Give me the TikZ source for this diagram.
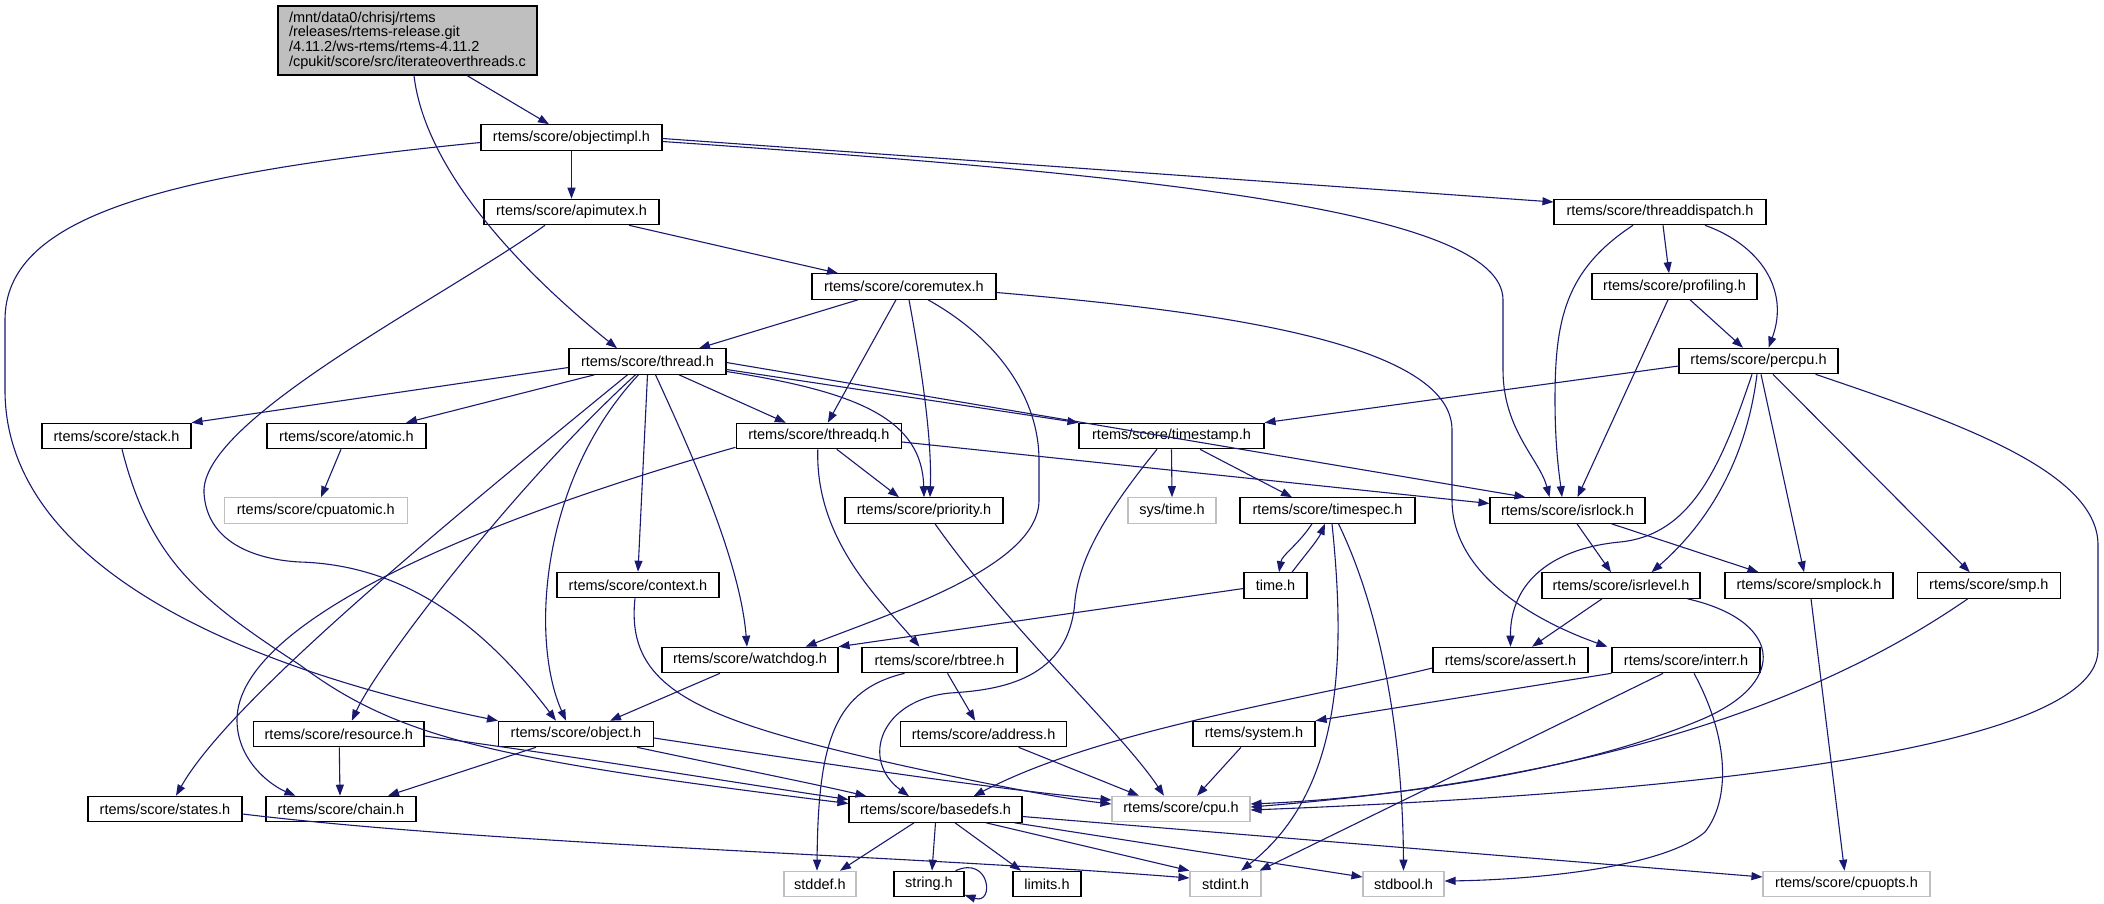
\documentclass[tikz,border=0pt]{standalone}
\usepackage{fontspec}
\setmainfont{Liberation Sans}
\usetikzlibrary{arrows.meta,calc}
\definecolor{edgeblue}{HTML}{191970}
\definecolor{lgray}{HTML}{BFBFBF}
\tikzset{
  box/.style={draw=black, fill=white, line width=1.1pt, rectangle, minimum height=25.5pt, inner sep=0pt, font=\fontsize{14.5}{15}\selectfont},
  gbox/.style={box, draw=lgray},
  rootbox/.style={box, fill=lgray, inner xsep=11pt, minimum height=69pt, align=left, font=\fontsize{14.5}{14.7}\selectfont},
  edge/.style={draw=edgeblue, line width=1.1pt, -{Triangle[length=11pt,width=8pt]}},
}
\newcommand\mkn[6][box]{\node[#1, minimum width=#5pt] (#2) at (#3,#4) {#6};}
\begin{document}
\begin{tikzpicture}[x=1pt,y=-1pt]
\fill[white] (0,0) rectangle (2104,903);
\useasboundingbox (0,0) rectangle (2104,903);

\node[rootbox] (root) at (407.5,40.5) {/mnt/data0/chrisj/rtems\\/releases/rtems-release.git\\/4.11.2/ws-rtems/rtems-4.11.2\\/cpukit/score/src/iterateoverthreads.c};
\mkn{objectimpl}{571.5}{137.5}{181}{rtems/score/objectimpl.h}
\mkn{apimutex}{571.5}{212}{175}{rtems/score/apimutex.h}
\mkn{coremutex}{904}{286.5}{184}{rtems/score/coremutex.h}
\mkn{threaddispatch}{1660}{212}{212}{rtems/score/threaddispatch.h}
\mkn{profiling}{1674.5}{286.5}{165}{rtems/score/profiling.h}
\mkn{percpu}{1758.5}{361}{159}{rtems/score/percpu.h}
\mkn{thread}{647.5}{361.5}{157}{rtems/score/thread.h}
\mkn{stack}{116.5}{436}{149}{rtems/score/stack.h}
\mkn{atomic}{346.5}{436}{159}{rtems/score/atomic.h}
\mkn[gbox]{cpuatomic}{315.8}{510.5}{182.5}{rtems/score/cpuatomic.h}
\mkn{context}{638}{585}{162}{rtems/score/context.h}
\mkn{threadq}{818.8}{436}{165.5}{rtems/score/threadq.h}
\mkn{timestamp}{1171.5}{436}{185}{rtems/score/timestamp.h}
\mkn{priority}{924}{510.5}{158}{rtems/score/priority.h}
\mkn[gbox]{systime}{1172}{510.5}{88}{sys/time.h}
\mkn{timespec}{1327.5}{510.5}{175}{rtems/score/timespec.h}
\mkn{timeh}{1275.5}{585.5}{63}{time.h}
\mkn{isrlock}{1567.5}{510.5}{155}{rtems/score/isrlock.h}
\mkn{watchdog}{750}{660}{176}{rtems/score/watchdog.h}
\mkn{rbtree}{939.5}{660}{155}{rtems/score/rbtree.h}
\mkn{isrlevel}{1621}{585.5}{158}{rtems/score/isrlevel.h}
\mkn{smplock}{1809}{585.5}{168}{rtems/score/smplock.h}
\mkn{smp}{1988.8}{585.5}{143.5}{rtems/score/smp.h}
\mkn{assert}{1510.5}{660}{155}{rtems/score/assert.h}
\mkn{interr}{1686}{660}{148}{rtems/score/interr.h}
\mkn{resource}{338.8}{734}{170.4}{rtems/score/resource.h}
\mkn{object}{576}{734}{155}{rtems/score/object.h}
\mkn{address}{983.6}{734}{166.3}{rtems/score/address.h}
\mkn{system}{1254}{734}{122}{rtems/system.h}
\mkn{states}{165}{809}{154}{rtems/score/states.h}
\mkn{chain}{341}{809}{150}{rtems/score/chain.h}
\mkn{basedefs}{935.5}{809.5}{173}{rtems/score/basedefs.h}
\mkn[gbox]{cpu}{1181}{809}{138}{rtems/score/cpu.h}
\mkn[gbox]{stddef}{820}{884}{72}{stddef.h}
\mkn{string}{929}{884}{70}{string.h}
\mkn{limits}{1047}{884}{68}{limits.h}
\mkn[gbox]{stdint}{1225.5}{884}{71}{stdint.h}
\mkn[gbox]{stdbool}{1403.5}{884}{81}{stdbool.h}
\mkn[gbox]{cpuopts}{1846.5}{884}{167}{rtems/score/cpuopts.h}

% root
\draw[edge] ($(root.south)+(59.5,0)$) -- ($(objectimpl.north)+(-22.5,0)$);
\draw[edge] ($(root.south)+(6.5,0)$) .. controls (425,170) and (520,270) .. ($(thread.north)+(-30.5,0)$);
% objectimpl
\draw[edge] (objectimpl.south) -- (apimutex.north);
\draw[edge] ($(objectimpl.west)+(0,5)$) .. controls (150,175) and (5,220) .. (5,320) -- (5,390) .. controls (5,570) and (250,670) .. (object.north west);
\draw[edge] ($(objectimpl.east)+(0,4)$) .. controls (1150,175) and (1503,210) .. (1503,300) -- (1503,370) .. controls (1503,430) and (1540,460) .. ($(isrlock.north)+(-18,0)$);
\draw[edge] ($(objectimpl.east)+(0,1)$) -- ($(threaddispatch.west)+(0,-10)$);
% apimutex
\draw[edge] ($(apimutex.south)+(57.5,0)$) -- ($(coremutex.north)+(-66,0)$);
\draw[edge] ($(apimutex.south)+(-26.5,0)$) .. controls (440,300) and (200,420) .. (204,493) .. controls (207,545) and (260,560) .. (300,562) .. controls (400,565) and (480,620) .. ($(object.north)+(-20,0)$);
% coremutex
\draw[edge] ($(coremutex.south)+(-46,0)$) -- ($(thread.north)+(51.5,0)$);
\draw[edge] ($(coremutex.south)+(-8,0)$) -- ($(threadq.north)+(9,0)$);
\draw[edge] ($(coremutex.south)+(5,0)$) .. controls (922,370) and (932,440) .. ($(priority.north)+(6,0)$);
\draw[edge] ($(coremutex.south)+(24,0)$) .. controls (1000,340) and (1039,400) .. (1039,460) -- (1039,500) .. controls (1039,565) and (900,610) .. ($(watchdog.north east)+(-33,0)$);
\draw[edge] ($(coremutex.east)+(0,6)$) .. controls (1200,310) and (1452,340) .. (1452,430) -- (1452,500) .. controls (1452,585) and (1560,630) .. ($(interr.north west)+(-4,0)$);
% thread
\draw[edge] ($(thread.west)+(0,6)$) -- (stack.north east);
\draw[edge] ($(thread.south west)+(26,0)$) -- ($(atomic.north)+(59.5,0)$);
\draw[edge] ($(thread.south)+(31.5,0)$) -- ($(threadq.north)+(-33,0)$);
\draw[edge] ($(thread.east)+(0,8)$) -- (timestamp.north west);
\draw[edge] ($(thread.east)+(0,1)$) -- ($(isrlock.north west)+(36,0)$);
\draw[edge] ($(thread.east)+(0,10)$) .. controls (860,392) and (922,420) .. (priority.north);
\draw[edge] ($(thread.south)+(8,0)$) .. controls (690,450) and (740,560) .. ($(watchdog.north)+(-3,0)$);
\draw[edge] (thread.south) -- (context.north);
\draw[edge] ($(thread.south)+(-9,0)$) .. controls (540,480) and (530,640) .. ($(object.north)+(-10,0)$);
\draw[edge] ($(thread.south)+(-12,0)$) .. controls (520,480) and (380,660) .. ($(resource.north)+(13,0)$);
\draw[edge] ($(thread.south)+(-20,0)$) .. controls (450,520) and (230,700) .. ($(states.north)+(11,0)$);
% atomic, stack
\draw[edge] ($(atomic.south)+(-5.5,0)$) -- ($(cpuatomic.north)+(5.2,0)$);
\draw[edge] ($(stack.south)+(5.5,0)$) .. controls (150,560) and (200,600) .. (300,665) .. controls (400,740) and (500,760) .. ($(basedefs.west)+(0,-6)$);
% resource, object, context, watchdog
\draw[edge] ($(resource.east)+(0,2)$) .. controls (600,760) and (750,785) .. ($(basedefs.west)+(0,-10)$);
\draw[edge] ($(resource.south)+(0.5,0)$) -- ($(chain.north)+(-1,0)$);
\draw[edge] ($(object.south)+(-40,0)$) -- ($(chain.north)+(47,0)$);
\draw[edge] ($(object.south east)+(-17,0)$) .. controls (720,765) and (820,785) .. ($(basedefs.north west)+(18,0)$);
\draw[edge] ($(object.east)+(0,4)$) .. controls (800,760) and (1000,790) .. ($(cpu.west)+(0,-9)$);
\draw[edge] ($(context.south)+(-3,0)$) .. controls (625,690) and (700,720) .. (900,765) .. controls (1000,787) and (1060,798) .. ($(cpu.west)+(0,-5)$);
\draw[edge] ($(watchdog.south)+(-30,0)$) -- ($(object.north)+(34,0)$);
% threadq
\draw[edge] ($(threadq.south west)+(0,-2)$) .. controls (486,518) and (237,620) .. (237,720) .. controls (237,760) and (270,785) .. ($(chain.north west)+(30,0)$);
\draw[edge] ($(threadq.south)+(18,0)$) -- ($(priority.north)+(-25,0)$);
\draw[edge] ($(threadq.south)+(-1,0)$) .. controls (815,540) and (880,600) .. ($(rbtree.north)+(-20,0)$);
\draw[edge] ($(threadq.east)+(0,6)$) -- ($(isrlock.west)+(0,-7)$);
% timestamp
\draw[edge] (timestamp.south) -- (systime.north);
\draw[edge] ($(timestamp.south)+(28.5,0)$) -- ($(timespec.north)+(-35.5,0)$);
\draw[edge] ($(timestamp.south)+(-14.5,0)$) .. controls (1100,520) and (1080,560) .. (1075,600) .. controls (1070,680) and (1000,690) .. (950,693) .. controls (880,700) and (860,760) .. ($(basedefs.north)+(-26.5,0)$);
% timespec, time.h
\draw[edge] ($(timespec.south)+(-15.5,0)$) .. controls (1298,545) and (1282,555) .. ($(timeh.north)+(3.5,0)$);
\draw[edge] ($(timeh.north)+(16.5,0)$) .. controls (1305,555) and (1318,540) .. ($(timespec.south)+(-2.5,0)$);
\draw[edge] ($(timespec.south)+(4.5,0)$) .. controls (1345,650) and (1345,790) .. ($(stdint.north)+(15.5,0)$);
\draw[edge] ($(timespec.south)+(11,0)$) .. controls (1385,620) and (1403,750) .. (stdbool.north);
\draw[edge] ($(timeh.west)+(0,3)$) -- (watchdog.north east);
% rbtree, priority, address, system
\draw[edge] ($(rbtree.south)+(8,0)$) -- ($(address.north)+(-8.5,0)$);
\draw[edge] ($(rbtree.south)+(-35,0)$) .. controls (835,690) and (818,740) .. ($(stddef.north)+(-3,0)$);
\draw[edge] ($(priority.south)+(11,0)$) .. controls (1010,630) and (1120,730) .. ($(cpu.north)+(-17,0)$);
\draw[edge] ($(address.south)+(35,0)$) -- ($(cpu.north)+(-42,0)$);
\draw[edge] ($(system.south)+(-13,0)$) -- ($(cpu.north)+(16,0)$);
% assert, interr
\draw[edge] ($(assert.west)+(0,8)$) .. controls (1300,700) and (1100,730) .. ($(basedefs.north east)+(-49,0)$);
\draw[edge] (interr.south west) -- (system.north east);
\draw[edge] ($(interr.south)+(-23,0)$) -- ($(stdint.north east)+(-2,0)$);
\draw[edge] ($(interr.south)+(8,0)$) .. controls (1730,740) and (1730,800) .. (1705,832) .. controls (1660,870) and (1520,880) .. ($(stdbool.east)+(0,-3)$);
% isrlock, isrlevel
\draw[edge] ($(isrlock.south)+(9.5,0)$) -- ($(isrlevel.north)+(-10,0)$);
\draw[edge] ($(isrlock.south east)+(-34,0)$) -- ($(smplock.north west)+(34,0)$);
\draw[edge] ($(isrlevel.south)+(-19,0)$) -- ($(assert.north)+(21.5,0)$);
\draw[edge] ($(isrlevel.south east)+(-13,0)$) .. controls (1780,620) and (1790,680) .. (1705,718) .. controls (1560,780) and (1350,800) .. ($(cpu.east)+(0,-5)$);
% percpu
\draw[edge] ($(percpu.west)+(0,5)$) -- (timestamp.north east);
\draw[edge] ($(percpu.south)+(-6.5,0)$) .. controls (1720,470) and (1690,535) .. (1620,542) .. controls (1555,548) and (1510,580) .. (assert.north);
\draw[edge] ($(percpu.south)+(-1.5,0)$) .. controls (1745,470) and (1700,530) .. ($(isrlevel.north east)+(-49,0)$);
\draw[edge] ($(percpu.south)+(2.5,0)$) -- ($(smplock.north)+(-5,0)$);
\draw[edge] ($(percpu.south)+(14.5,0)$) -- ($(smp.north)+(-19,0)$);
\draw[edge] ($(percpu.south east)+(-23,0)$) .. controls (1950,420) and (2098,470) .. (2098,545) -- (2098,650) .. controls (2098,770) and (1500,800) .. ($(cpu.east)+(0,1)$);
\draw[edge] ($(smp.south)+(-21,0)$) .. controls (1850,680) and (1650,775) .. ($(cpu.east)+(0,-2)$);
\draw[edge] ($(smplock.south)+(2,0)$) -- ($(cpuopts.north)+(-2,0)$);
% threaddispatch, profiling
\draw[edge] ($(threaddispatch.south)+(3,0)$) -- ($(profiling.north)+(-5.5,0)$);
\draw[edge] ($(threaddispatch.south)+(45,0)$) .. controls (1760,245) and (1790,290) .. ($(percpu.north)+(10,0)$);
\draw[edge] ($(threaddispatch.south)+(-27,0)$) .. controls (1565,270) and (1555,320) .. (1555,400) .. controls (1555,450) and (1560,480) .. ($(isrlock.north)+(-5.5,0)$);
\draw[edge] ($(profiling.south)+(15.5,0)$) -- ($(percpu.north)+(-15.5,0)$);
\draw[edge] ($(profiling.south)+(-6.5,0)$) -- ($(isrlock.north)+(10,0)$);
% states
\draw[edge] ($(states.east)+(0,5)$) .. controls (500,845) and (900,855) .. ($(stdint.west)+(0,-6)$);
% basedefs
\draw[edge] ($(basedefs.south)+(-21.5,0)$) -- ($(stddef.north)+(20,0)$);
\draw[edge] (basedefs.south) -- ($(string.north)+(3,0)$);
\draw[edge] ($(basedefs.south)+(19.5,0)$) -- ($(limits.north)+(-26,0)$);
\draw[edge] ($(basedefs.south)+(50.5,0)$) -- (stdint.north west);
\draw[edge] ($(basedefs.south east)+(-8,0)$) -- ($(stdbool.west)+(0,-7)$);
\draw[edge] ($(basedefs.east)+(0,7)$) -- ($(cpuopts.west)+(0,-7)$);
\draw[edge] ($(string.north east)+(-9,0)$) .. controls (990,855) and (995,905) .. ($(string.east)+(0,11)$);
\end{tikzpicture}
\end{document}
